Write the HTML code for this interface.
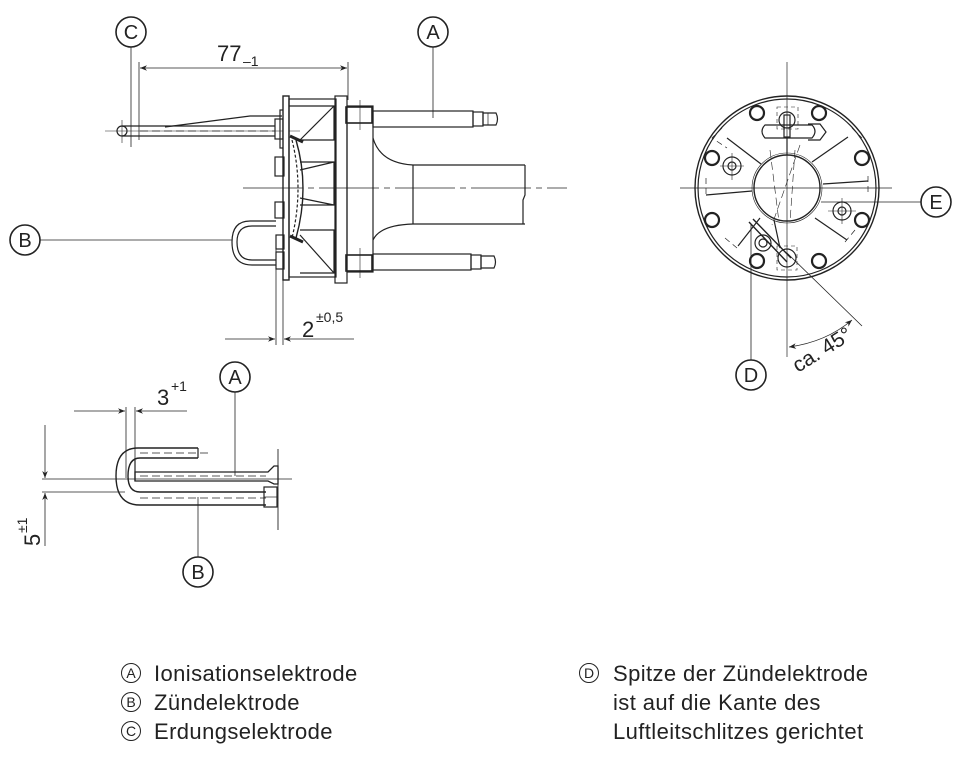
<!DOCTYPE html>
<html><head><meta charset="utf-8"><style>
html,body{margin:0;padding:0;background:#fff}
svg{display:block}
text{font-family:"Liberation Sans",Arial,sans-serif;fill:#222}
</style></head><body>
<svg width="963" height="758" viewBox="0 0 963 758" xmlns="http://www.w3.org/2000/svg">
<defs>
<marker id="ar" viewBox="0 0 10 10" refX="10" refY="5" markerWidth="11" markerHeight="7" orient="auto-start-reverse" markerUnits="userSpaceOnUse"><path d="M0,1 L10,5 L0,9 L3,5z" fill="#222"/></marker>
</defs>
<g fill="none" stroke="#222" stroke-width="1.2">
<circle cx="131" cy="32" r="15" stroke-width="1.6"/>
<circle cx="433" cy="32" r="15" stroke-width="1.6"/>
<line x1="131" y1="47" x2="131" y2="147" stroke-width="0.8"/>
<line x1="433" y1="47" x2="433" y2="118" stroke-width="0.8"/>
<line x1="139" y1="62" x2="139" y2="140" stroke-width="0.8"/>
<line x1="348" y1="62" x2="348" y2="100" stroke-width="0.8"/>
<line x1="140" y1="68" x2="347" y2="68" stroke-width="0.8" marker-start="url(#ar)" marker-end="url(#ar)"/>
<line x1="105" y1="131" x2="300" y2="131" stroke-width="0.6"/>
<line x1="122" y1="120" x2="122" y2="143" stroke-width="0.6"/>
<circle cx="122" cy="131" r="5"/>
<path d="M122,126 L275,126 M122,136 L275,136"/>
<path d="M165,127 L250,116 L282,116"/>
<path d="M140,131 L275,131" stroke-dasharray="8,4" stroke-width="0.7"/>
<rect x="275" y="119" width="8" height="20"/>
<rect x="280" y="110" width="5" height="38"/>
<rect x="283" y="96" width="6" height="184" fill="#fff" stroke-width="1.4"/>
<rect x="289" y="99" width="47" height="178"/>
<path d="M289,106 L334,106 L334,140 L300,140 M300,140 L334,106"/>
<path d="M300,162 L334,162 L334,205 L300,205 M300,170 L334,162 M300,198 L334,205"/>
<path d="M300,230 L334,230 L334,273 L300,273 M300,235 L334,273"/>
<path d="M296,140 Q310,188 296,238" stroke-width="1.4"/>
<path d="M292,140 Q304,188 292,238" stroke-dasharray="3,2"/>
<path d="M290,136 L303,142 M290,236 L303,242" stroke-width="3"/>
<rect x="335" y="96" width="12" height="187"/>
<rect x="347" y="106" width="26" height="166"/>
<rect x="346" y="107" width="26" height="16" stroke-width="1.6"/>
<rect x="346" y="255" width="26" height="16" stroke-width="1.6"/>
<line x1="360" y1="100" x2="360" y2="130" stroke-width="0.6"/>
<line x1="360" y1="248" x2="360" y2="278" stroke-width="0.6"/>
<path d="M373,138 Q380,163 413,165 L525,165"/>
<path d="M373,240 Q380,225 413,224 L525,224"/>
<path d="M413,165 L413,224"/>
<path d="M525,165 L525,195 L523,200 L523,224"/>
<line x1="243" y1="188" x2="567" y2="188" stroke-width="0.7" stroke-dasharray="60,5,6,5"/>
<rect x="373" y="111" width="100" height="16"/>
<rect x="473" y="112" width="10" height="14"/>
<path d="M483,113 L496,113 Q499,119 496,125 L483,125 Z"/>
<line x1="488" y1="113" x2="488" y2="125" stroke-width="0.7"/>
<rect x="373" y="254" width="98" height="16"/>
<rect x="471" y="255" width="10" height="14"/>
<path d="M481,256 L494,256 Q497,262 494,268 L481,268 Z"/>
<rect x="275" y="157" width="9" height="19"/>
<rect x="275" y="202" width="9" height="16"/>
<rect x="276" y="235" width="8" height="14"/>
<rect x="276" y="252" width="8" height="17"/>
<path d="M276,221 L250,221 Q232,221 232,242 Q232,265 252,265 L276,265"/>
<path d="M276,226 L252,226 Q237,226 237,242 Q237,260 252,260 L276,260"/>
<circle cx="25" cy="240" r="15" stroke-width="1.6"/>
<line x1="40" y1="240" x2="232" y2="240" stroke-width="0.8"/>
<line x1="276" y1="236" x2="276" y2="345" stroke-width="0.8"/>
<line x1="283" y1="236" x2="283" y2="345" stroke-width="0.8"/>
<line x1="225" y1="339" x2="275" y2="339" stroke-width="0.8" marker-end="url(#ar)"/>
<line x1="354" y1="339" x2="284" y2="339" stroke-width="0.8" marker-end="url(#ar)"/>

<line x1="787" y1="62" x2="787" y2="357" stroke-width="0.7"/>
<line x1="680" y1="188" x2="892" y2="188" stroke-width="0.7"/>
<circle cx="787" cy="188" r="92" stroke-width="1.4"/>
<circle cx="787" cy="188" r="89"/>
<circle cx="787" cy="188" r="33" stroke-width="1.4"/>
<circle cx="787" cy="188" r="35" stroke-width="0.6"/>
<g stroke-width="2.2">
<circle cx="757" cy="113" r="7"/><circle cx="819" cy="113" r="7"/>
<circle cx="712" cy="158" r="7"/><circle cx="862" cy="158" r="7"/>
<circle cx="712" cy="220" r="7"/><circle cx="862" cy="220" r="7"/>
<circle cx="757" cy="261" r="7"/><circle cx="819" cy="261" r="7"/>
</g>
<path d="M727,138 L761,164 M812,162 L848,137 M706,195 L752,191 M823,184 L868,181 M738,246 L760,218 M815,218 L847,240"/>
<path d="M722,128 L712,138 L727,148 M852,128 L862,138 M706,178 L706,196 M868,176 L868,194 M725,238 L737,248 M855,230 L845,242" stroke-width="0.7" stroke-dasharray="6,4"/>
<path d="M770,150 L779,222 M795,150 L790,222 M800,145 L772,225" stroke-width="0.6" stroke-dasharray="8,4"/>
<circle cx="787" cy="120" r="8"/>
<rect x="784" y="115" width="6" height="22"/>
<path d="M765,125 L812,125 Q818,131 812,138 L765,138 Q759,131 765,125Z"/>
<path d="M808,124 L820,124 L826,132 L820,140 L808,140"/>
<rect x="777" y="107" width="21" height="22" stroke-width="0.6" stroke-dasharray="4,3"/>
<line x1="787" y1="137" x2="787" y2="155"/>
<circle cx="732" cy="166" r="9"/><circle cx="732" cy="166" r="4"/>
<line x1="720" y1="166" x2="744" y2="166" stroke-width="0.6"/><line x1="732" y1="153" x2="732" y2="180" stroke-width="0.6"/>
<circle cx="842" cy="211" r="9"/><circle cx="842" cy="211" r="4"/>
<line x1="828" y1="211" x2="856" y2="211" stroke-width="0.6"/><line x1="842" y1="198" x2="842" y2="224" stroke-width="0.6"/>
<circle cx="763" cy="243" r="8"/><circle cx="763" cy="243" r="4"/>
<circle cx="787" cy="258" r="9"/>
<path d="M749,222 L787,262 M753,219 L791,258" stroke-width="1.4"/>
<rect x="777" y="246" width="20" height="24" stroke-width="0.6" stroke-dasharray="4,3"/>
<line x1="780" y1="248" x2="774" y2="220"/>
<circle cx="936" cy="202" r="15" stroke-width="1.6"/>
<line x1="821" y1="202" x2="921" y2="202" stroke-width="0.8"/>
<circle cx="751" cy="375" r="15" stroke-width="1.6"/>
<line x1="751" y1="224" x2="751" y2="360" stroke-width="0.8"/>
<line x1="787" y1="253" x2="862" y2="326" stroke-width="0.8"/>
<path d="M789,347 Q826,342 852,320" stroke-width="0.8" marker-start="url(#ar)" marker-end="url(#ar)"/>

<circle cx="235" cy="377" r="15" stroke-width="1.6"/>
<line x1="235" y1="392" x2="235" y2="476" stroke-width="0.8"/>
<line x1="126" y1="407" x2="126" y2="478" stroke-width="0.8"/>
<line x1="135" y1="407" x2="135" y2="478" stroke-width="0.8"/>
<line x1="74" y1="411" x2="125" y2="411" stroke-width="0.8" marker-end="url(#ar)"/>
<line x1="187" y1="411" x2="136" y2="411" stroke-width="0.8" marker-end="url(#ar)"/>
<line x1="45" y1="425" x2="45" y2="478" stroke-width="0.8" marker-end="url(#ar)"/>
<line x1="45" y1="546" x2="45" y2="493" stroke-width="0.8" marker-end="url(#ar)"/>
<line x1="42" y1="479" x2="292" y2="479" stroke-width="0.7"/>
<line x1="42" y1="492" x2="125" y2="492" stroke-width="0.7"/>
<path d="M198,448 L138,448 Q116,448 116,476 Q116,505 140,505 L266,505" stroke-width="1.4"/>
<path d="M198,458 L140,458 Q128,458 128,476 Q128,492 140,492 L266,492" stroke-width="1.4"/>
<line x1="198" y1="448" x2="198" y2="458"/>
<line x1="140" y1="453" x2="212" y2="453" stroke-width="0.7" stroke-dasharray="8,4"/>
<line x1="140" y1="498" x2="266" y2="498" stroke-width="0.7" stroke-dasharray="8,4"/>
<path d="M135,472 L268,472 L274,466 L278,466 L278,484 L274,484 L268,481 L135,481 Z" stroke-width="1.3"/>
<line x1="135" y1="460" x2="135" y2="481"/>
<line x1="140" y1="476" x2="266" y2="476" stroke-width="0.7" stroke-dasharray="8,4"/>
<rect x="264" y="487" width="13" height="20"/>
<line x1="264" y1="497" x2="277" y2="497" stroke-width="0.7"/>
<line x1="278" y1="449" x2="278" y2="530" stroke-width="0.9"/>
<line x1="198" y1="497" x2="198" y2="557" stroke-width="0.8"/>
<circle cx="198" cy="572" r="15" stroke-width="1.6"/>

<g stroke-width="1"><circle cx="131" cy="673" r="9.5"/><circle cx="131" cy="702" r="9.5"/><circle cx="131" cy="731" r="9.5"/><circle cx="589" cy="673" r="9.5"/></g>
</g>

<g font-size="20" text-anchor="middle">
<text x="131" y="39">C</text><text x="433" y="39">A</text><text x="25" y="247">B</text>
<text x="936" y="209">E</text><text x="751" y="382">D</text>
<text x="235" y="384">A</text><text x="198" y="579">B</text>
</g>
<text x="217" y="61" font-size="22">77</text><text x="243" y="66" font-size="14">–1</text>
<text x="302" y="337" font-size="22">2</text><text x="316" y="322" font-size="14">±0,5</text>
<text x="157" y="405" font-size="22">3</text><text x="171" y="391" font-size="14">+1</text>
<text transform="translate(40,546) rotate(-90)" font-size="22">5</text>
<text transform="translate(27,533) rotate(-90)" font-size="14">±1</text>
<text transform="translate(798,373) rotate(-32)" font-size="21">ca. 45°</text>

<g font-size="14" text-anchor="middle">
<text x="131" y="678">A</text><text x="131" y="707">B</text><text x="131" y="736">C</text><text x="589" y="678">D</text>
</g>
<g font-size="22" letter-spacing="0.4">
<text x="154" y="681">Ionisationselektrode</text>
<text x="154" y="710">Zündelektrode</text>
<text x="154" y="739">Erdungselektrode</text>
<text x="613" y="681">Spitze der Zündelektrode</text>
<text x="613" y="710">ist auf die Kante des</text>
<text x="613" y="739">Luftleitschlitzes gerichtet</text>
</g>
</svg>
</body></html>
